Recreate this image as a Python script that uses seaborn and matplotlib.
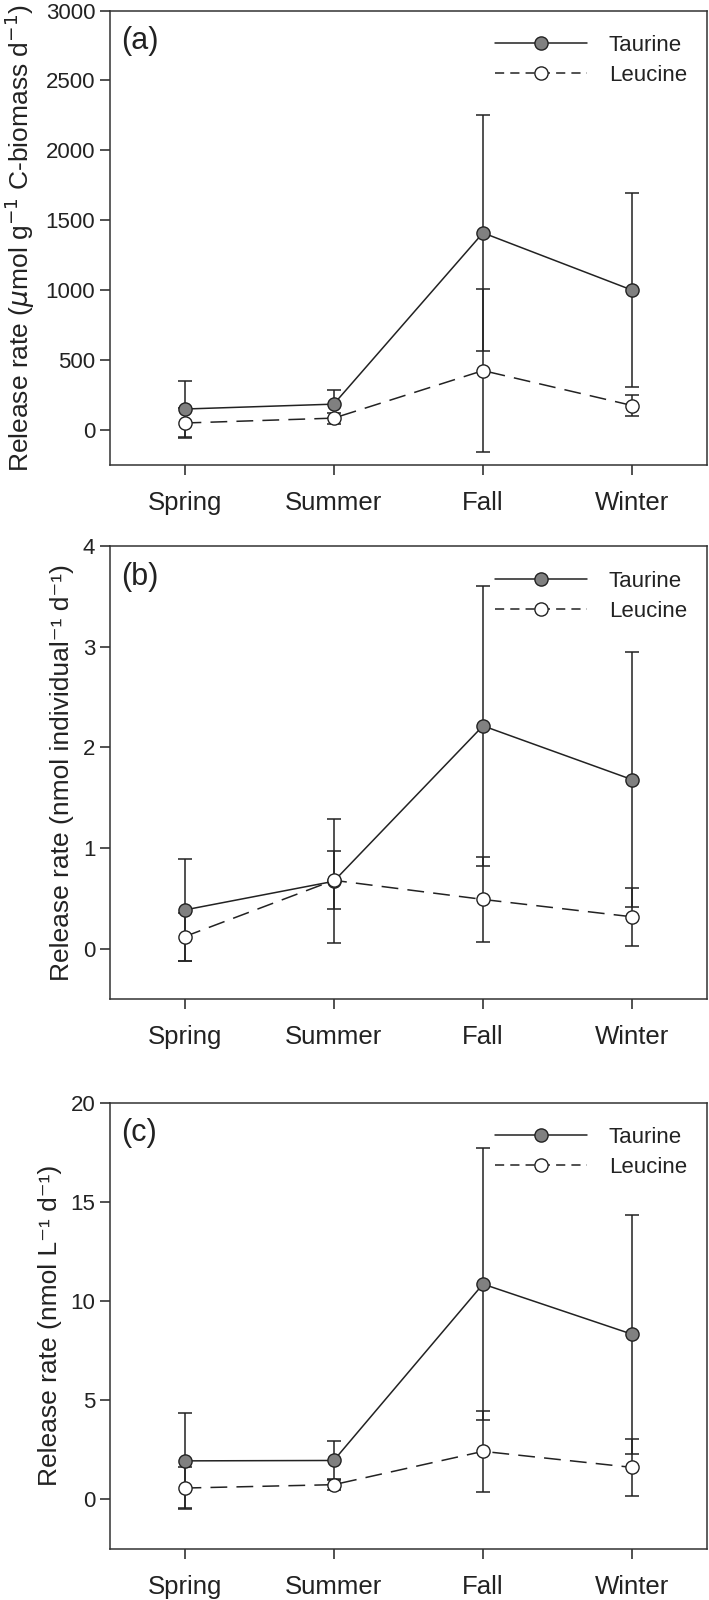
import numpy as np
import pandas as pd
import matplotlib
matplotlib.use("Agg")
import matplotlib.pyplot as plt
from matplotlib.lines import Line2D
import seaborn as sns

seasons = ["Spring", "Summer", "Fall", "Winter"]

# (a) per C-biomass
tau_a = [150, 185, 1410, 1000]
tau_a_err = [200, 100, 845, 695]
leu_a = [50, 85, 425, 175]
leu_a_err = [105, 40, 580, 78]

# (b) per individual
tau_b = [0.385, 0.67, 2.215, 1.68]
tau_b_err = [0.505, 0.615, 1.39, 1.27]
leu_b = [0.12, 0.68, 0.49, 0.317]
leu_b_err = [0.24, 0.29, 0.42, 0.285]

# (c) per litre
tau_c = [1.94, 1.96, 10.85, 8.32]
tau_c_err = [2.4, 0.96, 6.87, 6.03]
leu_c = [0.57, 0.74, 2.42, 1.61]
leu_c_err = [1.04, 0.27, 2.04, 1.42]

sns.set_theme(style="ticks")
plt.rcParams["font.family"] = ["Liberation Sans", "DejaVu Sans"]

panels = [
    ("(a)", tau_a, tau_a_err, leu_a, leu_a_err,
     "Release rate ($\\mu$mol g$^{-1}$ C-biomass d$^{-1}$)", (-250, 3000), [0, 500, 1000, 1500, 2000, 2500, 3000]),
    ("(b)", tau_b, tau_b_err, leu_b, leu_b_err,
     "Release rate (nmol individual⁻¹ d⁻¹)", (-0.5, 4), [0, 1, 2, 3, 4]),
    ("(c)", tau_c, tau_c_err, leu_c, leu_c_err,
     "Release rate (nmol L⁻¹ d⁻¹)", (-2.5, 20), [0, 5, 10, 15, 20]),
]

ink = "#222222"
fig = plt.figure(figsize=(7.09, 16), dpi=100)
boxes = [[0.155, 0.7094, 0.842, 0.284],
         [0.155, 0.3756, 0.842, 0.283],
         [0.155, 0.0319, 0.842, 0.279]]

for box, (tag, tau, tau_e, leu, leu_e, ylab, ylim, yt) in zip(boxes, panels):
    ax = fig.add_axes(box)
    x = np.arange(len(seasons))
    df = pd.DataFrame({
        "x": np.tile(x, 2),
        "Rate": tau + leu,
        "Err": tau_e + leu_e,
        "Amino acid": ["Taurine"] * 4 + ["Leucine"] * 4,
    })
    # error bars first so markers sit on top
    for name in ["Taurine", "Leucine"]:
        sub = df[df["Amino acid"] == name]
        ax.errorbar(sub["x"], sub["Rate"], yerr=sub["Err"], fmt="none", ecolor=ink,
                    elinewidth=1.1, capsize=4.7, capthick=1.1, zorder=2)
    sns.lineplot(data=df, x="x", y="Rate", style="Amino acid", hue="Amino acid",
                 palette={"Taurine": ink, "Leucine": ink},
                 dashes={"Taurine": "", "Leucine": (11, 6)},
                 markers={"Taurine": "o", "Leucine": "o"},
                 markersize=9.5, linewidth=1.1, markeredgecolor=ink,
                 markeredgewidth=1.0, ax=ax, zorder=3, legend=False)
    lines = ax.get_lines()[-2:]
    lines[0].set_markerfacecolor("#808080")
    lines[1].set_markerfacecolor("white")

    ax.set_xlim(-0.5, 3.5)
    ax.set_ylim(*ylim)
    ax.set_yticks(yt)
    ax.set_xticks(x)
    ax.set_xticklabels(seasons)
    ax.set_xlabel("")
    ax.set_ylabel(ylab, fontsize=19, color=ink, labelpad=6)
    ax.tick_params(axis="both", colors=ink, length=7, width=1.1, direction="out")
    ax.tick_params(axis="y", labelsize=16)
    ax.tick_params(axis="x", labelsize=18.5, pad=12)
    for s in ax.spines.values():
        s.set_linewidth(1.1)
        s.set_color("#333333")
    ax.text(0.018, 0.965, tag, transform=ax.transAxes, fontsize=22, va="top",
            ha="left", color=ink)

    handles = [
        Line2D([], [], color=ink, lw=1.1, marker="o", markersize=9.5,
               markerfacecolor="#808080", markeredgecolor=ink),
        Line2D([], [], color=ink, lw=1.1, ls=(0, (6, 4)), marker="o", markersize=9.5,
               markerfacecolor="white", markeredgecolor=ink),
    ]
    ax.legend(handles, ["Taurine", "Leucine"], loc="upper right", frameon=False,
              fontsize=16, handlelength=4.1, handletextpad=1.0, labelspacing=0.4,
              bbox_to_anchor=(1.0, 0.99), labelcolor=ink)

fig.savefig("out.png", dpi=100)
